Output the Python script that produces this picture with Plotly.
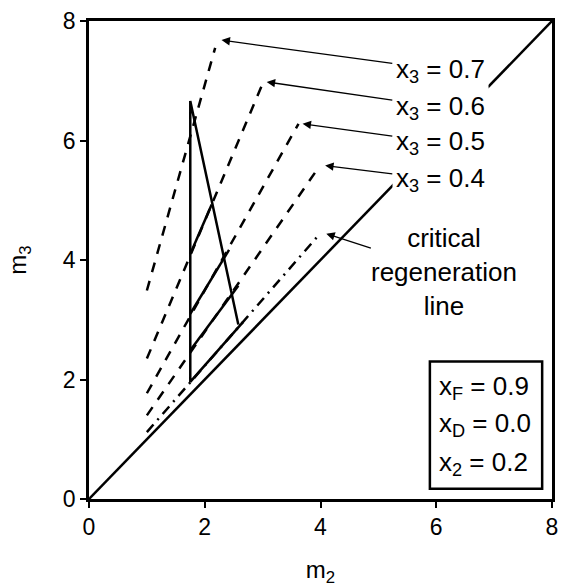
import plotly.graph_objects as go

# ---------------- data ----------------
# operating lines for several x3 values (dashed)
x3_values = ["0.7", "0.6", "0.5", "0.4"]
dash_m2_start = [1.0, 1.0, 1.0, 1.0]
dash_m3_start = [3.49, 2.35, 1.77, 1.40]
dash_m2_peak = [2.18, 3.02, 3.62, 3.99]
dash_m3_peak = [7.55, 7.00, 6.28, 5.58]

# critical regeneration line (dash-dot)
crit_m2 = [1.0, 4.0]
crit_m3 = [1.12, 4.45]

# diagonal m3 = m2
diag_m2 = [0, 8]
diag_m3 = [0, 8]

# region boundary (solid)
region_m2 = [2.66, 1.75, 1.75, 2.58]
region_m3 = [2.96, 1.96, 6.66, 2.92]

# tie lines inside the region
tie_m2_start = [1.75, 1.75, 1.75]
tie_m3_start = [4.10, 3.10, 2.49]
tie_m2_end = [2.12, 2.42, 2.58]
tie_m3_end = [4.93, 4.17, 3.57]

# label arrow tips
tip_m2 = [2.29, 3.07, 3.69, 4.08]
tip_m3 = [7.68, 6.98, 6.28, 5.58]
crit_tip_m2, crit_tip_m3 = 4.10, 4.44

# parameter box
params = [("F", "0.9"), ("D", "0.0"), ("2", "0.2")]

# ---------------- figure ----------------
FONT = "Liberation Sans, Arial, Helvetica, sans-serif"
fig = go.Figure()

fig.add_trace(go.Scatter(x=diag_m2, y=diag_m3, mode="lines",
                         line=dict(color="black", width=2.5)))

for i in range(len(x3_values)):
    fig.add_trace(go.Scatter(x=[dash_m2_start[i], dash_m2_peak[i]],
                             y=[dash_m3_start[i], dash_m3_peak[i]],
                             mode="lines",
                             line=dict(color="black", width=2.5, dash="10px,9px")))

fig.add_trace(go.Scatter(x=crit_m2, y=crit_m3, mode="lines",
                         line=dict(color="black", width=2.5, dash="10px,6px,2px,6px")))

fig.add_trace(go.Scatter(x=region_m2, y=region_m3, mode="lines",
                         line=dict(color="black", width=2.5)))

for i in range(len(tie_m2_start)):
    fig.add_trace(go.Scatter(x=[tie_m2_start[i], tie_m2_end[i]],
                             y=[tie_m3_start[i], tie_m3_end[i]],
                             mode="lines",
                             line=dict(color="black", width=2.5)))

# labels with arrows
label_m2 = 6.07
label_m3 = [7.18, 6.56, 5.96, 5.34]
for i, v in enumerate(x3_values):
    fig.add_annotation(x=tip_m2[i], y=tip_m3[i], xref="x", yref="y",
                       ax=label_m2, ay=label_m3[i], axref="x", ayref="y",
                       text="x<sub>3</sub> = " + v, showarrow=True,
                       arrowhead=2, arrowsize=1.3, arrowwidth=1.3, arrowcolor="black",
                       bgcolor="white", borderpad=3,
                       font=dict(family=FONT, size=26, color="black"))

fig.add_annotation(x=crit_tip_m2, y=crit_tip_m3, xref="x", yref="y",
                   ax=6.14, ay=3.80, axref="x", ayref="y",
                   text="critical<br>regeneration<br>line", showarrow=True,
                   arrowhead=2, arrowsize=1.3, arrowwidth=1.3, arrowcolor="black",
                   bgcolor="white", borderpad=0,
                   font=dict(family=FONT, size=26, color="black"))

# parameter box
fig.add_shape(type="rect", xref="x", yref="y", x0=5.89, x1=7.83, y0=0.17, y1=2.30,
              line=dict(color="black", width=2.5), fillcolor="white", layer="above")
param_y = [1.87, 1.24, 0.60]
for (sub, val), yy in zip(params, param_y):
    fig.add_annotation(x=6.02, y=yy, xref="x", yref="y", xanchor="left",
                       text="x<sub>" + sub + "</sub> = " + val, showarrow=False,
                       font=dict(family=FONT, size=26, color="black"))

axis_common = dict(range=[0, 8], dtick=2, ticks="outside", ticklen=6, tickwidth=2,
                   tickcolor="black", showline=True, linewidth=2.5, linecolor="black",
                   mirror=True, showgrid=False, zeroline=False,
                   tickfont=dict(family=FONT, size=23, color="black"))

fig.update_layout(
    width=566, height=587,
    margin=dict(l=89, r=8, t=20, b=88),
    paper_bgcolor="white", plot_bgcolor="white",
    showlegend=False,
    xaxis=dict(**axis_common,
               title=dict(text="m<sub>2</sub>", standoff=22,
                          font=dict(family=FONT, size=24, color="black"))),
    yaxis=dict(**axis_common,
               title=dict(text="m<sub>3</sub>", standoff=30,
                          font=dict(family=FONT, size=24, color="black"))),
)

fig.write_html("out.html")
